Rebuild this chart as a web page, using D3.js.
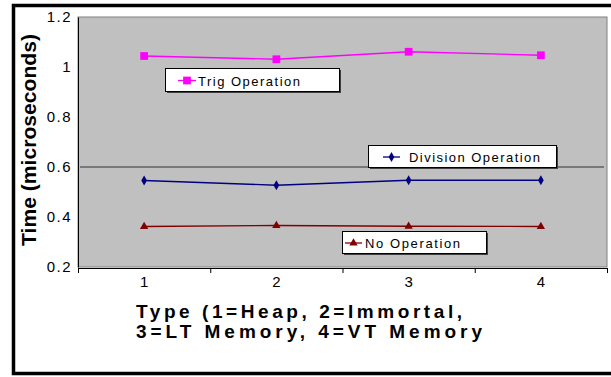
<!DOCTYPE html>
<html><head><meta charset="utf-8">
<script src="https://cdn.jsdelivr.net/npm/d3@7"></script>
<style>html,body{margin:0;padding:0;background:#fff;overflow:hidden}</style>
</head><body>
<script>
const categories = ["1", "2", "3", "4"];
const trigValues = [1.044, 1.031, 1.061, 1.047];
const divisionValues = [0.546, 0.527, 0.547, 0.547];
const noOpValues = [0.362, 0.366, 0.363, 0.362];
const yTicks = [0.2, 0.4, 0.6, 0.8, 1, 1.2];
const seriesNames = ["Trig Operation", "Division Operation", "No Operation"];

(function () {
const W = 611, H = 377;
const FONT = "Arial, Liberation Sans, sans-serif";
const svg = d3.select("body").append("svg").attr("width", W).attr("height", H);
svg.append("rect").attr("x", 0).attr("y", 0).attr("width", W).attr("height", H).attr("fill", "#fff");
svg.append("rect").attr("x", 13.5).attr("y", 5.5).attr("width", 620).attr("height", 368)
  .attr("fill", "none").attr("stroke", "#000").attr("stroke-width", 3.5);

const pL = 78, pR = 607, pT = 17, pB = 267;
const x = d3.scaleBand().domain(categories).range([pL, pR]);
const y = d3.scaleLinear().domain([0.2, 1.2]).range([pB, pT]);

svg.append("rect").attr("x", pL).attr("y", pT).attr("width", pR - pL).attr("height", pB - pT)
  .attr("fill", "#c0c0c0").attr("stroke", "#808080").attr("stroke-width", 1);

svg.append("line").attr("x1", pL + 2).attr("x2", pR - 3)
  .attr("y1", y(0.6)).attr("y2", y(0.6)).attr("stroke", "#606060").attr("stroke-width", 1.6);

const yAxis = svg.append("g").attr("transform", `translate(${pL},0)`)
  .call(d3.axisLeft(y).tickValues(yTicks).tickFormat(d => String(d)).tickSize(0).tickPadding(6));
yAxis.select(".domain").attr("stroke", "#000");
yAxis.selectAll("text").attr("font-family", FONT).attr("font-size", 15)
  .attr("letter-spacing", "1.5px").attr("fill", "#000");

const xAxis = svg.append("g").attr("transform", `translate(0,${pB + 1})`)
  .call(d3.axisBottom(x).tickSize(0).tickPadding(8));
xAxis.select(".domain").attr("stroke", "#000");
xAxis.selectAll("text").attr("font-family", FONT).attr("font-size", 15).attr("fill", "#000");
const bounds = categories.map(c => x(c)).concat([pR]);
svg.append("g").selectAll("line").data(bounds).join("line")
  .attr("x1", d => d + 0.5).attr("x2", d => d + 0.5)
  .attr("y1", pB + 1).attr("y2", pB + 6).attr("stroke", "#000");

svg.append("text").attr("transform", `translate(36,140) rotate(-90)`)
  .attr("text-anchor", "middle").attr("font-family", FONT)
  .attr("font-weight", "bold").attr("font-size", 20).attr("textLength", 212).attr("lengthAdjust", "spacingAndGlyphs")
  .text("Time (microseconds)");
const xt = svg.append("text").attr("font-family", FONT)
  .attr("font-weight", "bold").attr("font-size", 19);
xt.append("tspan").attr("x", 136).attr("y", 318).attr("textLength", 326).attr("lengthAdjust", "spacing")
  .text("Type (1=Heap, 2=Immortal,");
xt.append("tspan").attr("x", 136).attr("y", 338).attr("textLength", 346).attr("lengthAdjust", "spacing")
  .text("3=LT Memory, 4=VT Memory");

const series = [
  {name: seriesNames[0], values: trigValues, color: "#ff00ff", marker: "square"},
  {name: seriesNames[1], values: divisionValues, color: "#000080", marker: "diamond"},
  {name: seriesNames[2], values: noOpValues, color: "#800000", marker: "triangle"}
];
const cx = c => x(c) + x.bandwidth() / 2;
const line = d3.line().x((d, i) => cx(categories[i])).y(d => y(d));
const symbolFor = m => m === "square" ? d3.symbolSquare : m === "diamond" ? d3.symbolDiamond : d3.symbolTriangle;
const sizeFor = m => m === "square" ? 60 : m === "diamond" ? 28 : 30;

series.forEach(s => {
  svg.append("path").datum(s.values).attr("d", line).attr("fill", "none")
    .attr("stroke", s.color).attr("stroke-width", 1.3);
  svg.append("g").selectAll("path").data(s.values).join("path")
    .attr("transform", (d, i) => `translate(${cx(categories[i])},${y(d)})`)
    .attr("d", d3.symbol().type(symbolFor(s.marker)).size(sizeFor(s.marker)))
    .attr("fill", s.color);
});

const legends = [
  {s: series[0], x: 165, y: 68, w: 174, h: 23, l1: 13, l2: 31, tx: 33, tw: 102},
  {s: series[1], x: 368, y: 145, w: 188, h: 22, l1: 15, l2: 32, tx: 41, tw: 131},
  {s: series[2], x: 342, y: 231, w: 144, h: 22, l1: 3, l2: 20, tx: 23, tw: 95}
];
legends.forEach(L => {
  const g = svg.append("g").attr("transform", `translate(${L.x},${L.y})`);
  g.append("rect").attr("x", 2).attr("y", 2).attr("width", L.w).attr("height", L.h).attr("fill", "#404040");
  g.append("rect").attr("x", 0.5).attr("y", 0.5).attr("width", L.w).attr("height", L.h)
    .attr("fill", "#fff").attr("stroke", "#000").attr("stroke-width", 1);
  const my = L.h / 2 + 1;
  g.append("line").attr("x1", L.l1).attr("x2", L.l2).attr("y1", my).attr("y2", my)
    .attr("stroke", L.s.color).attr("stroke-width", 1.3);
  g.append("path").attr("transform", `translate(${(L.l1 + L.l2) / 2},${my})`)
    .attr("d", d3.symbol().type(symbolFor(L.s.marker)).size(sizeFor(L.s.marker)))
    .attr("fill", L.s.color);
  g.append("text").attr("x", L.tx).attr("y", my + 5).attr("font-family", FONT)
    .attr("font-size", 13).attr("textLength", L.tw).attr("lengthAdjust", "spacing")
    .attr("fill", "#000").text(L.s.name);
});
})();
</script>
</body></html>
